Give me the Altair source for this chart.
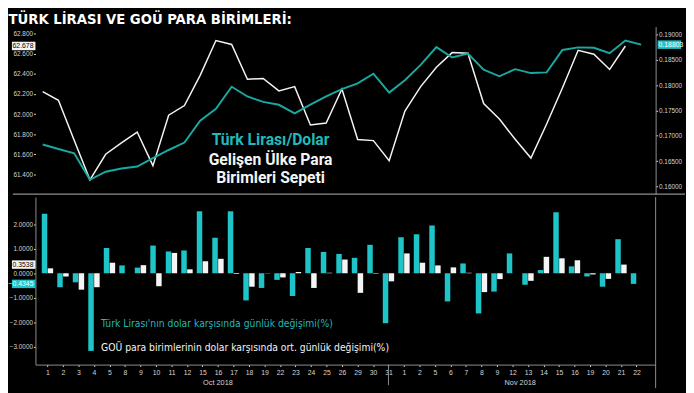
import altair as alt
import pandas as pd

# ---------------- data ----------------
days = [1, 2, 3, 4, 5, 8, 9, 10, 11, 12, 15, 16, 17, 18, 19, 22, 23, 24, 25, 26, 29, 30, 31,
        1, 2, 5, 6, 7, 8, 9, 12, 13, 14, 15, 16, 19, 20, 21, 22]
months = ["Oct 2018"] * 23 + ["Nov 2018"] * 16

# EM currency basket (left axis, white line)
em_index = [62.224, 62.137, 61.740, 61.346, 61.600, 61.714, 61.821, 61.487, 61.989, 62.085,
            62.386, 62.732, 62.693, 62.347, 62.354, 62.231, 62.273, 61.891, 61.911, 62.250,
            61.746, 61.736, 61.536, 62.030, 62.273, 62.467, 62.612, 62.606, 62.105, 61.950,
            61.749, 61.562, 61.901, 62.260, 62.635, 62.596, 62.444, 62.678, None]

# Turkish lira / USD (right axis, teal line)
try_usd = [0.16828, 0.16738, 0.16655, 0.16129, 0.16289, 0.16352, 0.16391, 0.16559, 0.16719, 0.16867,
           0.17297, 0.17535, 0.17971, 0.17778, 0.17670, 0.17613, 0.17445, 0.17618, 0.17778, 0.17924,
           0.18036, 0.18229, 0.17855, 0.18100, 0.18403, 0.18755, 0.18549, 0.18626, 0.18306, 0.18177,
           0.18318, 0.18240, 0.18254, 0.18697, 0.18749, 0.18742, 0.18634, 0.18884, 0.18803]

# daily % change, TRY vs USD (teal bars)
try_chg = [2.43, -0.57, -0.37, -3.17, 1.03, 0.32, 0.23, 1.13, 0.89, 0.93,
           2.53, 1.45, 2.53, -1.11, -0.60, -0.27, -0.93, 1.03, 0.87, 0.79,
           0.63, 1.16, -2.04, 1.47, 1.59, 1.95, -1.15, 0.40, -1.64, -0.75,
           0.81, -0.47, 0.13, 2.49, 0.28, -0.13, -0.55, 1.39, -0.4345]

# daily avg % change, EM currencies vs USD (white bars)
em_chg = [0.20, -0.13, -0.67, -0.57, 0.43, 0.00, 0.33, -0.53, 0.83, 0.16,
          0.49, 0.59, -0.03, -0.55, 0.01, -0.17, 0.05, -0.60, 0.02, 0.56,
          -0.80, -0.02, -0.33, 0.81, 0.43, 0.32, 0.24, 0.02, -0.77, -0.24,
          0.00, -0.31, 0.67, 0.61, 0.53, -0.05, -0.23, 0.3538, None]

title_text = "TÜRK LİRASI VE GOÜ PARA BİRİMLERİ:"
legend_top = ["Türk Lirası/Dolar", "Gelişen Ülke Para", "Birimleri Sepeti"]
legend_bottom = ["Türk Lirası'nın dolar karşısında günlük değişimi(%)",
                 "GOÜ para birimlerinin dolar karşısında ort. günlük değişimi(%)"]

left_ticks = [61.4, 61.6, 61.8, 62.0, 62.2, 62.4, 62.6, 62.8]
right_ticks = [0.160, 0.165, 0.170, 0.175, 0.180, 0.185, 0.190]
bottom_ticks = [-3, -2, -1, 0, 1, 2]

# ---------------- style ----------------
TEAL_LINE = "#18A9A1"
TEAL_BAR = "#1EC4C7"
TEAL_TEXT = "#21B9B9"
WHITE = "#F4F4F4"
GRAY = "#8E8E8E"
LABEL = "#D6D6D6"
FONT = "DejaVu Sans Condensed, DejaVu Sans, sans-serif"
AXFONT = "Liberation Sans, Arial, sans-serif"

W = 633
H_TOP = 171
H_BOT = 171

idx = list(range(len(days)))
df = pd.DataFrame({"i": idx, "day": days, "month": months, "em": em_index,
                   "tl": try_usd, "tl_chg": try_chg, "em_chg": em_chg})

last_em = df[df["em"].notna()].iloc[[-1]]
last_tl = df[df["tl"].notna()].iloc[[-1]]
last_emc = df[df["em_chg"].notna()].iloc[[-1]]
last_tlc = df[df["tl_chg"].notna()].iloc[[-1]]

month_df = df.groupby("month", sort=False)["i"].agg(["min", "max"]).reset_index()
month_df["c"] = (month_df["min"] + month_df["max"]) / 2
sep_df = month_df.iloc[:-1]

x_dom = [-0.46, 38.92]
BOX = "M-1,-0.36L1,-0.36L1,0.36L-1,0.36Z"

LEFT_DOM = [61.203, 62.871]
RIGHT_DOM = [0.15846, 0.1916]
BOT_DOM = [-3.73, 3.11]


def xs():
    return alt.Scale(domain=x_dom, nice=False, zero=False)


def sc(dom):
    return alt.Scale(domain=dom, nice=False, zero=False)


def axis_common(**kw):
    base = dict(labelFont=AXFONT, labelFontSize=6.5, labelColor=LABEL, tickColor=LABEL,
                tickSize=2, labelPadding=1, grid=False, title=None, domainColor=GRAY)
    base.update(kw)
    return alt.Axis(**base)


def value_box(data, field, dom, color, txt_color, fmt, side, axis=None):
    if side == "left":
        bx, tx, al = -12, -2, "right"
    else:
        bx, tx, al = W + 14, W + 3, "left"
    yenc = alt.Y(f"{field}:Q", scale=sc(dom), axis=axis, stack=None)
    b = alt.Chart(data).mark_point(shape=BOX, filled=True, size=576, opacity=1,
                                   color=color).encode(x=alt.value(bx), y=yenc)
    t = alt.Chart(data).mark_text(align=al, baseline="middle", font=AXFONT, fontSize=7,
                                  color=txt_color).encode(
        x=alt.value(tx), y=yenc, text=alt.Text(f"{field}:Q", format=fmt))
    return [b, t]


# ---------------- top panel ----------------
white_line = alt.Chart(df).mark_line(color=WHITE, strokeWidth=1.5).encode(
    x=alt.X("i:Q", scale=xs(), axis=None),
    y=alt.Y("em:Q", scale=sc(LEFT_DOM),
            axis=axis_common(orient="left", values=left_ticks, format=".3f", domain=False)),
)
teal_line = alt.Chart(df).mark_line(color=TEAL_LINE, strokeWidth=2).encode(
    x=alt.X("i:Q", scale=xs(), axis=None),
    y=alt.Y("tl:Q", scale=sc(RIGHT_DOM),
            axis=axis_common(orient="right", values=right_ticks, format=".5f", domain=True)),
)

top_leg_y = [116, 136, 155]
top_leg_col = [TEAL_TEXT, WHITE, WHITE]
top_legs = []
for k, t in enumerate(legend_top):
    top_legs.append(
        alt.Chart(pd.DataFrame({"t": [t]})).mark_text(
            align="center", baseline="middle", font="Roboto", fontWeight="bold",
            fontSize=16, color=top_leg_col[k]).encode(
            x=alt.value(240), y=alt.value(top_leg_y[k]), text="t:N"))

divider = alt.Chart(df.iloc[[0]]).mark_rule(color=GRAY, strokeWidth=1.5).encode(
    x=alt.value(-23), x2=alt.value(W + 30), y=alt.value(H_TOP))

top = alt.layer(
    white_line, teal_line,
    *value_box(last_em, "em", LEFT_DOM, WHITE, "#000000", ".3f", "left"),
    *value_box(last_tl, "tl", RIGHT_DOM, TEAL_BAR, "#FFFFFF", ".5f", "right"),
    *top_legs, divider,
).resolve_scale(y="independent").properties(width=W, height=H_TOP)

# ---------------- bottom panel ----------------
label_expr = "[" + ",".join(str(d) for d in days) + "][round(datum.value)]"
x_axis = axis_common(values=idx, labelExpr=label_expr, labelOverlap=False,
                     labelFlush=False, labelPadding=2, domain=True, labelFontSize=7)
y_axis = axis_common(orient="left", values=bottom_ticks, format=".4f", domain=True)

teal_bars = alt.Chart(df).transform_calculate(xp="datum.i - 0.19").mark_bar(
    color=TEAL_BAR, width=5.6).encode(
    x=alt.X("xp:Q", scale=xs(), axis=x_axis),
    y=alt.Y("tl_chg:Q", scale=sc(BOT_DOM), stack=None, axis=y_axis),
    y2=alt.datum(0),
)
white_bars = alt.Chart(df).transform_filter("isValid(datum.em_chg)").transform_calculate(
    xp="datum.i + 0.19").mark_bar(color=WHITE, width=5.6).encode(
    x=alt.X("xp:Q", scale=xs(), axis=x_axis),
    y=alt.Y("em_chg:Q", scale=sc(BOT_DOM), stack=None, axis=y_axis),
    y2=alt.datum(0),
)

bot_leg_y = [130, 154]
bot_leg_col = [TEAL_TEXT, WHITE]
bot_legs = []
for k, t in enumerate(legend_bottom):
    bot_legs.append(
        alt.Chart(pd.DataFrame({"t": [t]})).mark_text(
            align="left", baseline="middle", font=FONT, fontSize=10.5,
            color=bot_leg_col[k]).encode(
            x=alt.value(67), y=alt.value(bot_leg_y[k]), text="t:N"))

month_txt = alt.Chart(month_df).mark_text(align="center", baseline="middle", font=AXFONT,
                                          fontSize=7.5, color=LABEL).encode(
    x=alt.X("c:Q", scale=xs(), axis=x_axis), y=alt.value(H_BOT + 18.5), text="month:N")
month_sep = alt.Chart(sep_df).mark_rule(color=GRAY).encode(
    x=alt.X("max:Q", scale=xs(), axis=x_axis), y=alt.value(H_BOT), y2=alt.value(H_BOT + 21))
right_line = alt.Chart(df.iloc[[0]]).mark_rule(color=GRAY, strokeWidth=1).encode(
    x=alt.value(W), y=alt.value(0), y2=alt.value(H_BOT + 24))

bottom = alt.layer(
    teal_bars, white_bars,
    *value_box(last_emc, "em_chg", BOT_DOM, WHITE, "#000000", ".4f", "left", y_axis),
    *value_box(last_tlc, "tl_chg", BOT_DOM, TEAL_BAR, "#FFFFFF", ".4f", "left", y_axis),
    *bot_legs, month_txt, month_sep, right_line,
).properties(width=W, height=H_BOT)

chart = alt.vconcat(top, bottom, spacing=1).properties(
    background="#000000",
    padding={"left": 0, "right": 0, "top": 0, "bottom": 0},
    title=alt.TitleParams(title_text, anchor="start", font=FONT, fontSize=15,
                          fontWeight="bold", color="#FFFFFF", offset=0),
).configure_view(stroke=None).configure_concat(spacing=1)

chart.save("out.html", embed_options={"renderer": "svg", "actions": False})
